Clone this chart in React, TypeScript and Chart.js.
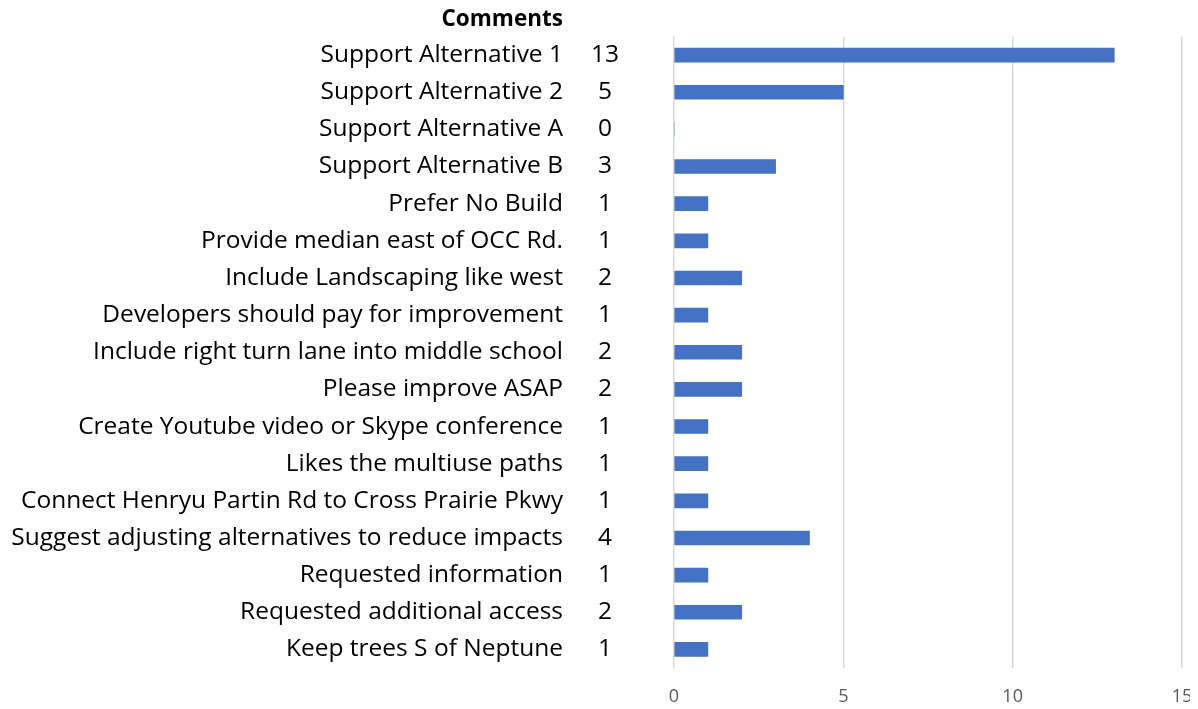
import React, { useEffect, useRef } from "react";
import { Chart, registerables } from "chart.js";

Chart.register(...registerables);

const categories = [
  "Support Alternative 1",
  "Support Alternative 2",
  "Support Alternative A",
  "Support Alternative B",
  "Prefer No Build",
  "Provide median east of OCC Rd.",
  "Include Landscaping like west",
  "Developers should pay for improvement",
  "Include right turn lane into middle school",
  "Please improve ASAP",
  "Create Youtube video or Skype conference",
  "Likes the multiuse paths",
  "Connect Henryu Partin Rd to Cross Prairie Pkwy",
  "Suggest adjusting alternatives to reduce impacts",
  "Requested information",
  "Requested additional access",
  "Keep trees S of Neptune",
];
const counts = [13, 5, 0, 3, 1, 1, 2, 1, 2, 2, 1, 1, 1, 4, 1, 2, 1];
const xTicks = [0, 5, 10, 15];
const header = "Comments";

const FONT = "'Open Sans', 'Noto Sans', sans-serif";
const FS = 24.5;

const countsPlugin = {
  id: "countsColumn",
  afterDraw(chart: any) {
    const { ctx, chartArea, scales } = chart;
    const y = scales.y;
    ctx.save();
    ctx.fillStyle = "#000";
    ctx.font = `${FS}px ${FONT}`;
    ctx.textAlign = "center";
    ctx.textBaseline = "middle";
    counts.forEach((v, i) => {
      ctx.fillText(String(v), chartArea.left - 69, y.getPixelForValue(i));
    });
    ctx.font = `bold 22.5px ${FONT}`;
    ctx.textAlign = "right";
    ctx.fillText(header, chartArea.left - 111, 12);
    ctx.restore();
  },
};

export default function App() {
  const ref = useRef<HTMLCanvasElement>(null);
  useEffect(() => {
    const chart = new Chart(ref.current!, {
      type: "bar",
      data: {
        labels: categories,
        datasets: [
          {
            data: counts,
            backgroundColor: "#4472C4",
            barThickness: 14,
          },
        ],
      },
      options: {
        indexAxis: "y",
        animation: false,
        responsive: true,
        maintainAspectRatio: false,
        layout: { padding: { top: 28.5, bottom: 0, right: 8, left: 0 } },
        plugins: { legend: { display: false }, tooltip: { enabled: false } },
        scales: {
          x: {
            min: 0,
            max: 15,
            afterBuildTicks(scale: any) {
              scale.ticks = xTicks.map((v) => ({ value: v }));
            },
            afterFit(scale: any) {
              scale.height = 41;
              scale.paddingLeft = 0;
              scale.paddingRight = 0;
            },
            grid: { color: "#d9d9d9", lineWidth: 1.5, drawTicks: false },
            border: { display: false },
            ticks: {
              padding: 18,
              color: "#595959",
              maxRotation: 0,
              font: { family: FONT, size: 18 },
            },
          },
          y: {
            afterFit(scale: any) {
              scale.width = 666;
              scale.paddingTop = 0;
              scale.paddingBottom = 0;
            },
            grid: { display: false, drawTicks: false },
            border: { display: false },
            ticks: {
              padding: 111,
              color: "#000",
              font: { family: FONT, size: FS },
              autoSkip: false,
            },
          },
        },
      },
      plugins: [countsPlugin],
    });
    return () => chart.destroy();
  }, []);
  return (
    <div style={{ position: "relative", width: 1182, height: 701 }}>
      <canvas ref={ref} />
    </div>
  );
}
